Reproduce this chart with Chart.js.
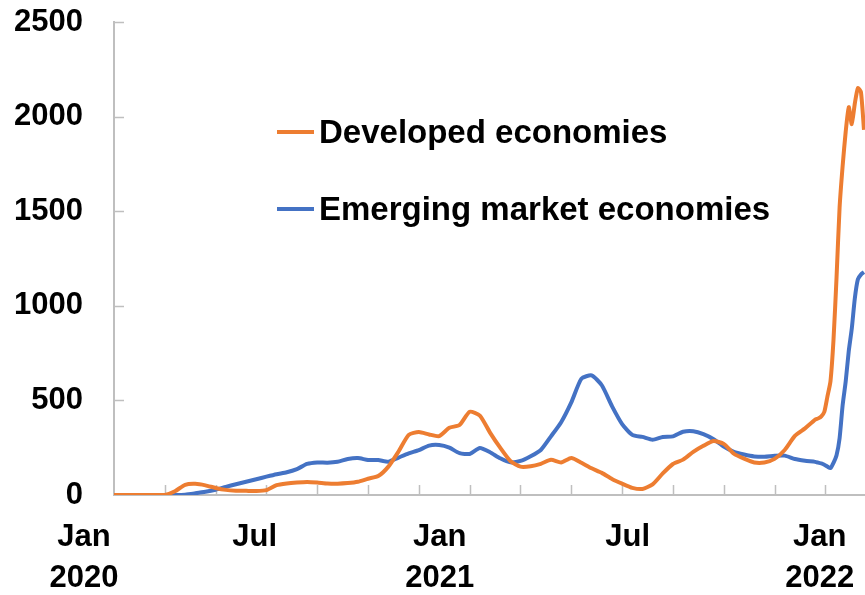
<!DOCTYPE html>
<html>
<head>
<meta charset="utf-8">
<script src="https://cdn.jsdelivr.net/npm/chart.js@4/dist/chart.umd.min.js"></script>
<style>
  html, body { margin: 0; padding: 0; background: #fff; }
  #wrap { position: relative; width: 865px; height: 595px; }
  #legend { position: absolute; left: 277px; top: 110px; font: bold 33px "Liberation Sans", Arial, sans-serif; color: #000; }
  #legend .item { display: flex; align-items: center; height: 44px; margin-bottom: 33px; white-space: nowrap; }
  #legend .swatch { width: 37px; height: 4px; margin-right: 5px; }
</style>
</head>
<body>
<div id="wrap">
  <canvas id="chart" width="865" height="595"></canvas>
  <div id="legend"></div>
</div>
<script>
const days = [0,10,20,30,40,50,60,70,80,90,100,110,120,130,140,150,160,170,180,190,200,210,220,230,240,250,260,270,280,290,300,310,320,330,340,350,360,370,380,390,400,410,420,430,440,450,460,470,480,490,500,510,520,530,540,550,560,570,580,590,600,610,620,630,640,650,660,670,680,690,693,696,699,702,705,708,711,714,717,720,723,726,729,732,735,738];
const developed = [0,0,0,0,0,0,20,54,59,51,37,27,23,22,21,26,52,61,66,69,66,61,60,63,70,86,100,150,230,318,333,320,311,355,370,440,420,330,250,180,150,152,165,186,172,195,170,141,117,85,60,38,32,56,114,164,187,228,260,285,270,218,192,172,172,191,238,312,352,398,405,416,440,520,600,820,1150,1520,1740,1920,2050,1960,2070,2150,2130,1930];
const emerging = [0,0,0,0,0,0,0,2,9,17,28,43,57,70,83,97,110,120,137,164,172,171,176,190,195,185,185,176,198,220,237,261,264,250,221,217,248,226,194,173,180,205,238,310,385,490,615,632,580,470,375,318,307,292,307,310,334,337,322,295,256,228,214,204,202,207,208,190,181,175,171,167,160,150,142,170,210,300,475,600,760,880,1040,1140,1165,1178];

const seriesNames = ["Developed economies", "Emerging market economies"];
const seriesColors = ["#ED7D31", "#4472C4"];
const yTicks = [0, 500, 1000, 1500, 2000, 2500];
const xTickStep = 50;
const xMax = 739;
const xLabelDays = [0, 168, 350, 535, 724];
const xLabels = [["Jan", "2020"], ["Jul"], ["Jan", "2021"], ["Jul"], ["Jan", "2022"]];

const axisGrey = "#BFBFBF";
const tickFont = { family: "'Liberation Sans', Arial, sans-serif", size: 31, weight: "bold", lineHeight: 1.32 };

function toPoints(values) {
  return values.map((v, i) => ({ x: days[i], y: v }));
}

// short inward tick marks like the original axes
const tickMarks = {
  id: "tickMarks",
  beforeDatasetsDraw(chart) {
    const { ctx, chartArea, scales: { x, y } } = chart;
    ctx.save();
    ctx.strokeStyle = axisGrey;
    ctx.lineWidth = 1.5;
    ctx.beginPath();
    for (let d = xTickStep; d < xMax; d += xTickStep) {
      const px = Math.round(x.getPixelForValue(d)) + 0.5;
      ctx.moveTo(px, chartArea.bottom);
      ctx.lineTo(px, chartArea.bottom - 10);
    }
    yTicks.forEach(v => {
      if (v === 0) return;
      const py = Math.round(y.getPixelForValue(v)) + 0.5;
      ctx.moveTo(chartArea.left, py);
      ctx.lineTo(chartArea.left + 10, py);
    });
    ctx.stroke();
    ctx.restore();
  }
};

const chart = new Chart(document.getElementById("chart"), {
  type: "line",
  data: {
    datasets: [
      {
        label: seriesNames[0],
        data: toPoints(developed),
        borderColor: seriesColors[0],
        borderWidth: 4,
        pointRadius: 0,
        tension: 0.2,
        fill: false
      },
      {
        label: seriesNames[1],
        data: toPoints(emerging),
        borderColor: seriesColors[1],
        borderWidth: 4,
        pointRadius: 0,
        tension: 0.2,
        fill: false
      }
    ]
  },
  options: {
    responsive: false,
    animation: false,
    layout: { padding: { top: 22, right: 0, left: 0, bottom: 0 } },
    plugins: {
      legend: { display: false },
      tooltip: { enabled: false }
    },
    scales: {
      x: {
        type: "linear",
        min: 0,
        max: xMax,
        grid: { display: true, drawOnChartArea: false, drawTicks: false },
        border: { display: true, color: axisGrey, width: 2 },
        afterBuildTicks: scale => {
          scale.ticks = xLabelDays.map(v => ({ value: v }));
        },
        afterFit: scale => {
          scale.height = 100;
          scale.paddingLeft = 0;
          scale.paddingRight = 0;
        },
        ticks: {
          autoSkip: false,
          maxRotation: 0,
          padding: 22,
          labelOffset: -30,
          color: "#000",
          font: tickFont,
          callback: (value, i) => xLabels[i]
        }
      },
      y: {
        min: 0,
        max: 2500,
        grid: { display: true, drawOnChartArea: false, drawTicks: false },
        border: { display: true, color: axisGrey, width: 2 },
        afterBuildTicks: scale => {
          scale.ticks = yTicks.map(v => ({ value: v }));
        },
        afterFit: scale => {
          scale.width = 114;
          scale.paddingTop = 0;
          scale.paddingBottom = 0;
        },
        ticks: {
          padding: 31,
          color: "#000",
          font: tickFont,
          callback: value => String(value)
        }
      }
    }
  },
  plugins: [tickMarks]
});

// legend sits inside the plot, as in the original
const legend = document.getElementById("legend");
chart.data.datasets.forEach(ds => {
  const item = document.createElement("div");
  item.className = "item";
  const sw = document.createElement("span");
  sw.className = "swatch";
  sw.style.background = ds.borderColor;
  const txt = document.createElement("span");
  txt.textContent = ds.label;
  item.appendChild(sw);
  item.appendChild(txt);
  legend.appendChild(item);
});
</script>
</body>
</html>
